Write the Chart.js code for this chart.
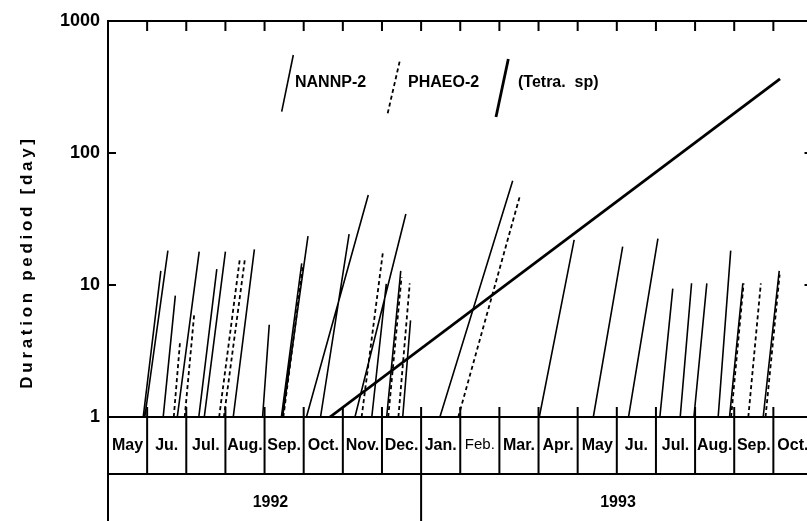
<!DOCTYPE html>
<html><head><meta charset="utf-8">
<script src="https://cdn.jsdelivr.net/npm/chart.js@4"></script>
<style>
html,body{margin:0;padding:0;background:#fff;overflow:hidden;width:807px;height:521px}
#wrap{position:relative;width:820px;height:521px}
canvas{display:block}
</style></head><body><div id="wrap"><canvas id="c" width="820" height="521"></canvas></div>
<script>
// ---- data ----
const monthLabels = ["May","Ju.","Jul.","Aug.","Sep.","Oct.","Nov.","Dec.","Jan.","Feb.","Mar.","Apr.","May","Ju.","Jul.","Aug.","Sep.","Oct."];
const yearLabels = ["1992","1993"];
const yearStart = [0, 8];
const yearLabelCenter = [4.15, 13.03];
const yTicks = [1, 10, 100, 1000];
const seriesNames = ["NANNP-2", "PHAEO-2", "(Tetra.  sp)"];
const yTitle = "Duration pediod [day]";

// each segment: from (start month, 1 day) to (end month, duration days)
const nannpStart = [0.90,0.94,1.41,1.77,2.32,2.46,3.20,3.95,4.43,4.46,5.07,5.43,6.31,6.74,7.12,7.53,8.48,11.02,12.40,13.30,14.10,14.62,14.97,15.59,15.88,16.74];
const nannpEnd   = [1.35,1.53,1.72,2.33,2.78,3.00,3.74,4.12,4.95,5.11,6.65,6.16,7.61,7.11,7.48,7.73,10.34,11.91,13.15,14.05,14.43,14.91,15.30,15.91,16.22,17.15];
const nannpDays  = [12.8,18.2,8.3,17.9,13.2,17.9,18.6,5.0,14.6,23.5,48,24.3,34.5,10.2,12.8,5.4,61.7,22,19.5,22.5,9.4,10.3,10.3,18.2,10.3,12.8];

const phaeoStart = [1.68,1.96,2.84,2.96,4.48,6.48,7.16,7.42,8.95,15.92,16.36,16.80];
const phaeoEnd   = [1.84,2.20,3.37,3.50,4.98,7.02,7.50,7.71,10.53,16.24,16.68,17.16];
const phaeoDays  = [3.7,5.9,15.9,15.9,14.0,17.4,11.5,10.3,48,10.3,10.3,12.0];

const tetraStart = [5.67];
const tetraEnd   = [17.17];
const tetraDays  = [364];

function segs(s, e, d) {
  const out = [];
  for (let i = 0; i < s.length; i++) {
    out.push({x: s[i], y: 1}, {x: e[i], y: d[i]}, {x: e[i], y: null});
  }
  return out;
}

const F = '"Liberation Sans", Arial, Helvetica, sans-serif';

const styles = [
  {w: 1.6, dash: []},
  {w: 1.8, dash: [4, 3]},
  {w: 2.8, dash: []}
];

const framePlugin = {
  id: 'frame',
  afterDraw(chart) {
    const {ctx, chartArea: a, scales: {x, y}} = chart;
    const boxH = 57, H = chart.height;
    ctx.save();
    ctx.strokeStyle = '#000';
    ctx.lineWidth = 2;
    ctx.beginPath();
    ctx.moveTo(a.left, H); ctx.lineTo(a.left, a.top); ctx.lineTo(a.right, a.top); ctx.lineTo(a.right, H);
    ctx.moveTo(a.left, a.bottom); ctx.lineTo(a.right, a.bottom);
    ctx.moveTo(a.left, a.bottom + boxH); ctx.lineTo(a.right, a.bottom + boxH);
    for (let i = 1; i < monthLabels.length; i++) {
      const px = x.getPixelForValue(i);
      ctx.moveTo(px, a.bottom - 10); ctx.lineTo(px, a.bottom + boxH);
      ctx.moveTo(px, a.top); ctx.lineTo(px, a.top + 10);
    }
    yearStart.forEach(s => {
      if (s > 0) { const px = x.getPixelForValue(s); ctx.moveTo(px, a.bottom + boxH); ctx.lineTo(px, H); }
    });
    yTicks.forEach(v => {
      const py = y.getPixelForValue(v);
      ctx.moveTo(a.left, py); ctx.lineTo(a.left + 8, py);
      ctx.moveTo(a.right, py); ctx.lineTo(a.right - 8, py);
    });
    ctx.stroke();

    ctx.fillStyle = '#000';
    ctx.textAlign = 'center';
    ctx.textBaseline = 'middle';
    ctx.font = 'bold 16px ' + F;
    yearLabels.forEach((t, i) => {
      ctx.fillText(t, x.getPixelForValue(yearLabelCenter[i]), a.bottom + boxH + 29);
    });

    // y title
    ctx.save();
    ctx.translate(27, 262);
    ctx.rotate(-Math.PI / 2);
    ctx.font = 'bold 17px ' + F;
    try { ctx.letterSpacing = '3.7px'; } catch (e) {}
    ctx.fillText(yTitle, 0, 0);
    ctx.restore();

    // legend
    const leg = [
      {x0: 281.7, y0: 111.7, x1: 293.3, y1: 55, tx: 295},
      {x0: 387.7, y0: 113.3, x1: 400.0, y1: 60, tx: 408},
      {x0: 496.0, y0: 117.0, x1: 508.3, y1: 59, tx: 518}
    ];
    ctx.textAlign = 'left';
    ctx.font = 'bold 16px ' + F;
    leg.forEach((l, i) => {
      ctx.beginPath();
      ctx.lineWidth = styles[i].w;
      ctx.setLineDash(styles[i].dash);
      ctx.moveTo(l.x0, l.y0); ctx.lineTo(l.x1, l.y1);
      ctx.stroke();
      ctx.setLineDash([]);
      ctx.fillText(seriesNames[i], l.tx, 83);
    });
    ctx.restore();
  }
};

const ds = (i, data) => ({
  label: seriesNames[i], data,
  borderColor: '#000', backgroundColor: '#000',
  borderWidth: styles[i].w, borderDash: styles[i].dash,
  pointRadius: 0, tension: 0, spanGaps: false, fill: false,
  borderCapStyle: 'butt'
});

new Chart(document.getElementById('c'), {
  type: 'line',
  data: {
    datasets: [
      ds(0, segs(nannpStart, nannpEnd, nannpDays)),
      ds(1, segs(phaeoStart, phaeoEnd, phaeoDays)),
      ds(2, segs(tetraStart, tetraEnd, tetraDays))
    ]
  },
  options: {
    responsive: false, animation: false, events: [],
    layout: {padding: {left: 0, right: 7.5, top: 21, bottom: 0}},
    plugins: {legend: {display: false}, tooltip: {enabled: false}},
    scales: {
      x: {
        type: 'linear', min: 0, max: monthLabels.length,
        grid: {display: false, drawTicks: false}, border: {display: false},
        afterBuildTicks: s => { s.ticks = monthLabels.map((_, i) => ({value: i + 0.5})); },
        afterFit: s => { s.height = 104; s.paddingLeft = 0; s.paddingRight = 0; },
        ticks: {
          autoSkip: false, maxRotation: 0, minRotation: 0, padding: 19, color: '#000',
          font: c => (monthLabels[c.index] === 'Feb.' ? {family: F, size: 15, weight: 'normal'} : {family: F, size: 16, weight: 'bold'}),
          callback: (v, i) => monthLabels[i]
        }
      },
      y: {
        type: 'logarithmic', min: 1, max: 1000,
        grid: {display: false, drawTicks: false}, border: {display: false},
        afterBuildTicks: s => { s.ticks = yTicks.map(v => ({value: v})); },
        afterFit: s => { s.width = 108; },
        ticks: {padding: 8, color: '#000', font: {family: F, size: 18, weight: 'bold'}, callback: v => String(v)}
      }
    }
  },
  plugins: [framePlugin]
});
</script></body></html>
